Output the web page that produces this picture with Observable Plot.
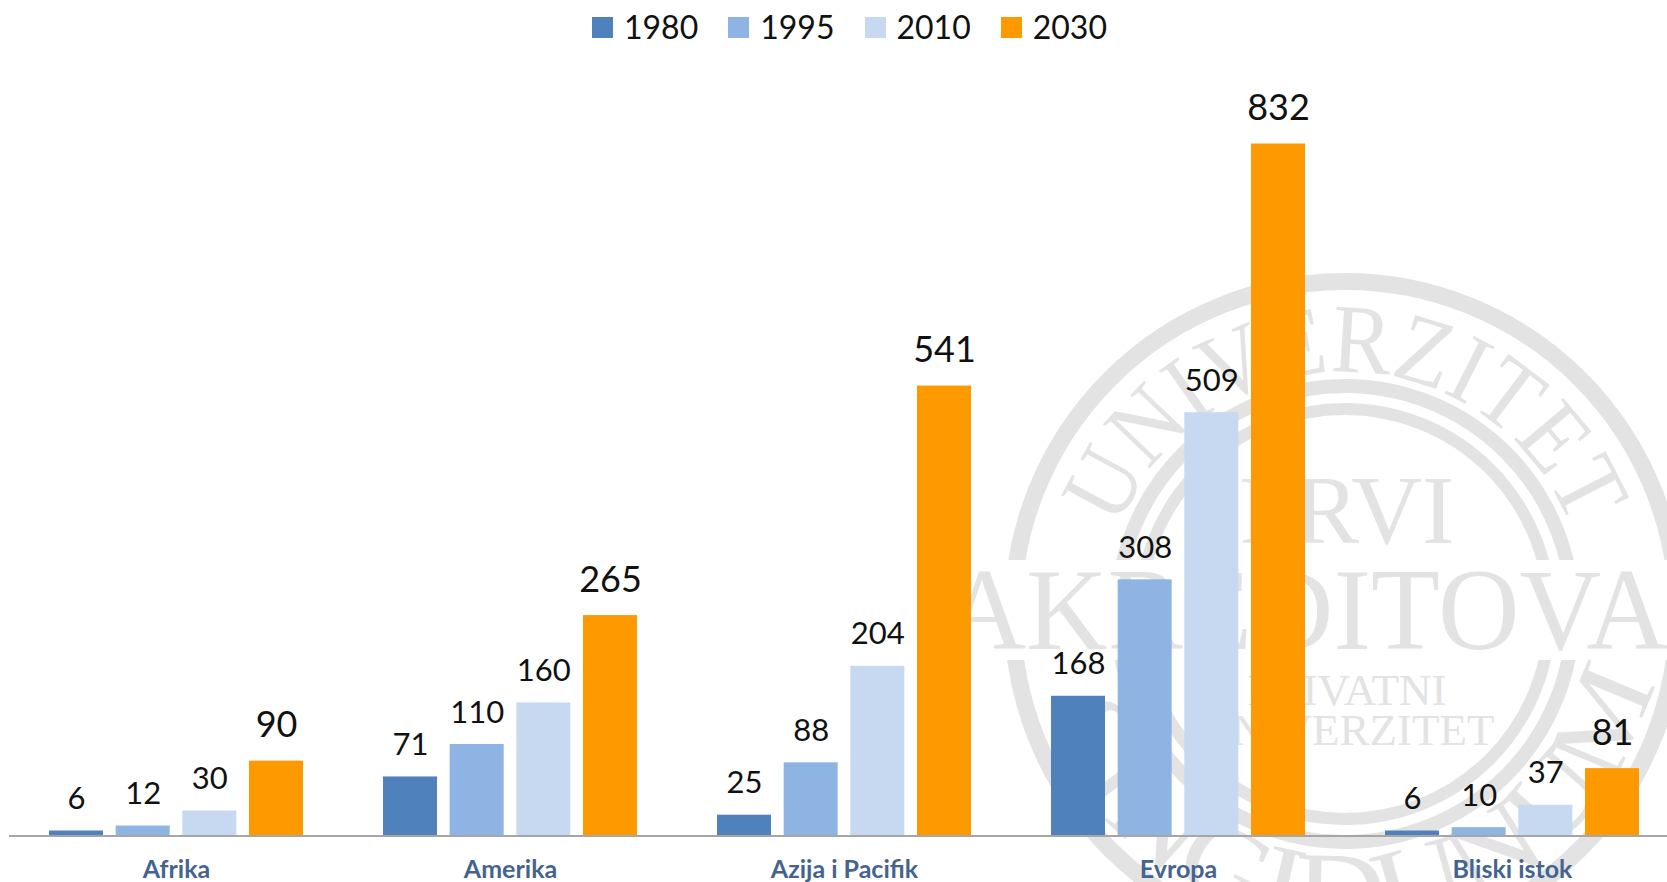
<!DOCTYPE html>
<html>
<head>
<meta charset="utf-8">
<script src="https://cdn.jsdelivr.net/npm/d3@7"></script>
<script src="https://cdn.jsdelivr.net/npm/@observablehq/plot@0.6"></script>
<style>
html,body{margin:0;padding:0;background:#fff;overflow:hidden;font-family:Lato,sans-serif}
#legend{height:54px;box-sizing:border-box;display:flex;justify-content:center;align-items:center;padding-left:32px;gap:30px;color:#111;font-size:32px;line-height:54px}
#legend .i{display:flex;align-items:center;gap:11px}
#legend .s{width:21px;height:21px;display:inline-block}
</style>
</head>
<body>
<div id="legend"></div>
<div id="chart"></div>
<script>
const categories = ["Afrika", "Amerika", "Azija i Pacifik", "Evropa", "Bliski istok"];
const years = ["1980", "1995", "2010", "2030"];
const values1980 = [6, 71, 25, 168, 6];
const values1995 = [12, 110, 88, 308, 10];
const values2010 = [30, 160, 204, 509, 37];
const values2030 = [90, 265, 541, 832, 81];
const colors = ["#4f81bd", "#8eb4e3", "#c6d9f1", "#ff9900"];

const series = [values1980, values1995, values2010, values2030];
const rows = years.flatMap((year, s) => categories.map((category, c) => ({category, year, value: series[s][c]})));

d3.select("#legend").selectAll("div").data(years).join("div").attr("class", "i")
  .html((d, i) => `<span class="s" style="background:${colors[i]}"></span><span>${d}</span>`);

const chartHeight = 828;
const seal = () => {
  const g = d3.create("svg:g").attr("fill", "#e3e3e3");
  const cx = 1345, cy = 560, ink = "#e3e3e3";
  const arc = (id, r, a, sweep) => {
    const t = a * Math.PI / 180;
    const sx = cx - r * Math.sin(t), ex = cx + r * Math.sin(t);
    const y = sweep ? cy - r * Math.cos(t) : cy + r * Math.cos(t);
    g.append("path").attr("id", id).attr("fill", "none")
      .attr("d", `M${sx},${y}A${r},${r} 0 0 ${sweep ? 1 : 0} ${ex},${y}`);
  };
  [[332.5, 17], [228, 14], [205, 12]].forEach(([r, w]) =>
    g.append("circle").attr("cx", cx).attr("cy", cy).attr("r", r).attr("fill", "none").attr("stroke", ink).attr("stroke-width", w));
  g.append("rect").attr("x", 900).attr("y", 506).attr("width", 800).attr("height", 100).attr("fill", "#fff");
  arc("sealTop", 242, 75, true);
  arc("sealBottom", 314, 82, false);
  const curved = (id, label, size, len, rot) => g.append("text")
    .attr("font-family", "Liberation Serif").attr("font-size", size).attr("text-anchor", "middle")
    .attr("transform", `rotate(${rot} ${cx} ${cy})`)
    .append("textPath").attr("href", "#" + id).attr("startOffset", "50%")
    .attr("textLength", len).attr("lengthAdjust", "spacingAndGlyphs").text(label);
  curved("sealTop", "UNIVERZITET", 98, 585, 0);
  curved("sealBottom", "SINGIDUNUM", 110, 811, -3.5);
  const straight = (label, y, size, len) => {
    const t = g.append("text").attr("font-family", "Liberation Serif").attr("font-size", size)
      .attr("text-anchor", "middle").attr("x", cx + 2).attr("y", y).text(label);
    if (len) t.attr("textLength", len).attr("lengthAdjust", "spacingAndGlyphs");
  };
  straight("PRVI", 489, 98);
  straight("AKREDITOVAN", 595, 117, 805);
  straight("PRIVATNI", 651, 45);
  straight("UNIVERZITET", 691, 45);
  return g.node();
};

const plot = Plot.plot({
  width: 1667,
  height: chartHeight,
  marginLeft: 9,
  marginRight: 0,
  marginTop: 0,
  marginBottom: 46.5,
  style: {fontFamily: "Lato, sans-serif", background: "transparent", overflow: "hidden"},
  fx: {domain: categories, range: [9, 1679], padding: 0, round: false, label: null},
  x: {domain: years, paddingInner: 0.19, paddingOuter: 0.6, round: false, axis: null},
  y: {domain: [0, 832], range: [781.5, 89.5], axis: null},
  color: {domain: years, range: colors},
  marks: [
    Plot.text(["seal"], {facet: "super", frameAnchor: "middle", text: d => d, render: seal}),
    Plot.barY(rows, {fx: "category", x: "year", y: "value", fill: "year"}),
    Plot.text(rows.filter(d => d.year !== "2030"), {fx: "category", x: "year", y: "value", text: "value", fontSize: 31, fill: "#111", lineAnchor: "bottom", dy: -22}),
    Plot.text(rows.filter(d => d.year === "2030"), {fx: "category", x: "year", y: "value", text: "value", fontSize: 36, fill: "#111", lineAnchor: "bottom", dy: -24}),
    Plot.ruleY([0], {stroke: "#a6a6a6", strokeWidth: 2}),
    Plot.axisFx({anchor: "bottom", tickSize: 0, tickPadding: 24, fontSize: 25, fontWeight: "bold", color: "#44648f", label: null})
  ]
});
document.getElementById("chart").append(plot);
</script>
</body>
</html>
